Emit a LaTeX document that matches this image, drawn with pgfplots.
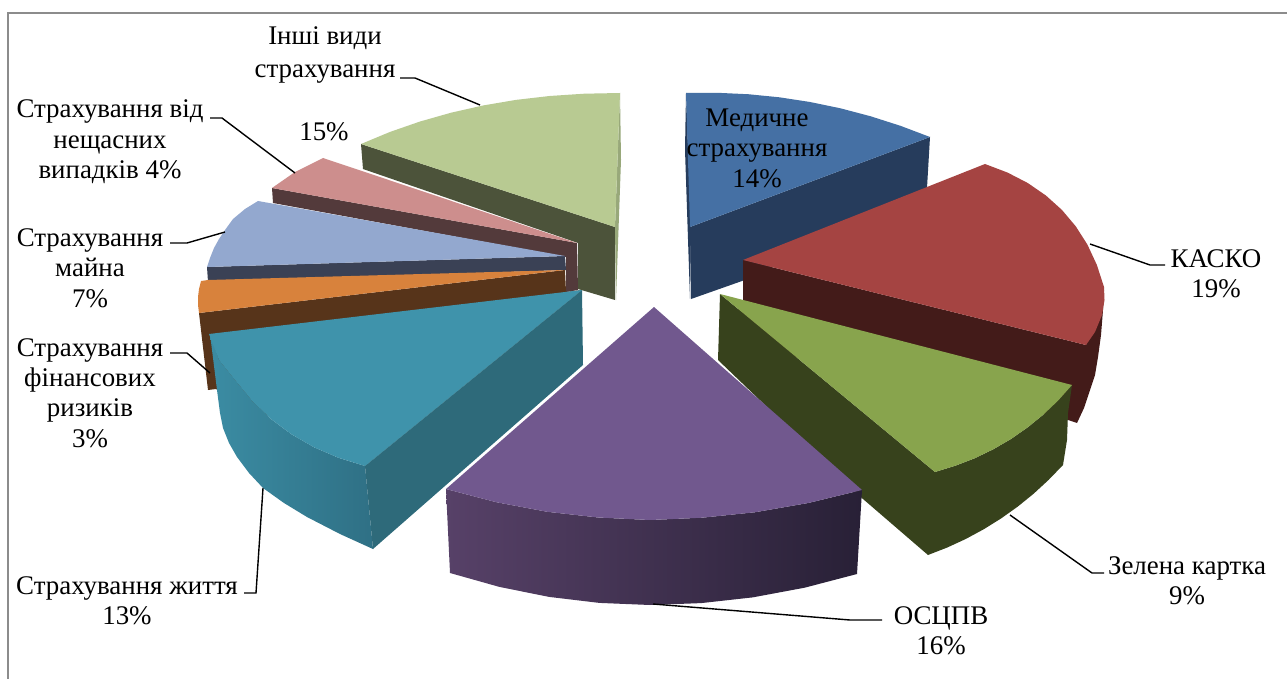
\documentclass[border=0pt]{standalone}
\usepackage{pgfplots}
\pgfplotsset{compat=1.18}
\usepackage{fontspec}
\setmainfont{Liberation Serif}
\definecolor{bluet}{HTML}{4570A4}\definecolor{blues}{HTML}{263C5C}
\definecolor{redt}{HTML}{A54442}\definecolor{reds}{HTML}{431B19}
\definecolor{grnt}{HTML}{88A44D}\definecolor{grns}{HTML}{37421C}
\definecolor{purt}{HTML}{71588E}\definecolor{purl}{HTML}{574168}\definecolor{purr}{HTML}{282036}
\definecolor{tealt}{HTML}{3F93AB}\definecolor{teals}{HTML}{2E6A7A}\definecolor{teall}{HTML}{3B8CA3}\definecolor{tealr}{HTML}{2F7085}
\definecolor{orat}{HTML}{D8823C}\definecolor{oras}{HTML}{57341A}
\definecolor{pert}{HTML}{93A8CF}\definecolor{pers}{HTML}{3A4155}
\definecolor{pnkt}{HTML}{CD8E8D}\definecolor{pnks}{HTML}{533A3B}
\definecolor{sagt}{HTML}{B8CA92}\definecolor{sags}{HTML}{4C533A}\definecolor{sagm}{HTML}{98A87A}
\definecolor{framec}{HTML}{8C8C8C}
\tikzset{lab/.style={font=\fontsize{26.9}{30.4}\selectfont,align=center,text=black,inner sep=0pt},
  lead/.style={draw=black,line width=1.4pt,fill=none}}
\begin{document}
\begin{tikzpicture}
\begin{axis}[
  x=1pt,y=1pt,y dir=reverse,
  xmin=0,xmax=1287,ymin=0,ymax=679,
  hide axis,clip=true,
  every axis plot/.append style={no markers,line width=0pt,draw=none}]
% canvas
\addplot[fill=white] coordinates {(0,0)(1287,0)(1287,679)(0,679)} --cycle;
% frame
\addplot[draw=framec,line width=2pt] coordinates {(8,679)(8,13)(1287,13)};
% back group
\addplot[fill=sags] coordinates {(361,144)(615,227)(615,300)(578,289)(578,243)(363,169)} --cycle;
\addplot[fill=sagm] coordinates {(620,93)(621,160)(616,300)(615,227)} --cycle;
\addplot[fill=sagt] coordinates {(361,144)(390.1,131.9)(420.1,121.5)(451.1,112.7)(483,105.5)(515.9,99.9)(549.6,96)(584.3,93.7)(620,93)(615,227)} --cycle;
\addplot[fill=pnks] coordinates {(272,188)(577,243)(578,290)(566,292)(566,257)(273,203)} --cycle;
\addplot[fill=pnkt] coordinates {(272,188)(295,172)(309,165)(323,158)(577,243)} --cycle;
\addplot[fill=pers] coordinates {(207,267)(565,256)(566,270)(208,282)} --cycle;
\addplot[fill=pert] coordinates {(207,267)(210,258)(214,248)(219,239)(225,230)(233,219)(245,209)(258,201)(565,256)} --cycle;
\addplot[fill=oras] coordinates {(199,313)(565,270)(566,292)(582,290)(365,466)(216,389)(208,390)} --cycle;
\addplot[fill=orat] coordinates {(201,281)(208,280)(565,270)(199,313)(198,305)(198,297)(199,289)} --cycle;
% teal
\addplot[left color=teall,right color=tealr] coordinates {(210,334)(217,390)(220,413)(223,428)(229,443)(237,457)(249,473)(263,488)(284,503)(307,517)(340,534)(373,549)(365,466)(338.5,457.8)(314,447.25)(291.5,434.3)(271,419)(252.5,401.3)(236,381.25)(219,360)} --cycle;
\addplot[fill=teals] coordinates {(365,466)(582,290)(583,365)(373,549)} --cycle;
\addplot[fill=tealt] coordinates {(582,290)(209,334)(219,360)(236,381.25)(252.5,401.3)(271,419)(291.5,434.3)(314,447.25)(338.5,457.8)(365,466)} --cycle;
% blue
\addplot[fill=blues] coordinates {(930,137)(690,227)(691,299)(742,281)(927,188)} --cycle;
\addplot[fill=blues] coordinates {(686,93)(685,150)(690,299)(691,227)} --cycle;
\addplot[fill=bluet] coordinates {(686,93)(717.4,92.8)(748.5,94.25)(779.4,97.3)(810,102)(840.4,108.3)(870.5,116.25)(900.4,125.8)(930,137)(690,227)} --cycle;
% red
\addplot[fill=reds] coordinates {(743,260)(1086,345)(1104,290)(1103,310)(1101,335)(1098,357)(1095,375)(1090,390)(1084,408)(1077,423)(1068,420)(720,340)(743,300)} --cycle;
\addplot[fill=redt] coordinates {(743,260)(985,164)(1007.6,172.6)(1027.9,183.1)(1046,195.6)(1062,210)(1075.8,226.4)(1087.4,244.6)(1096.8,264.8)(1104,287)(1104.5,300)(1102,315)(1095,332)(1086,345)} --cycle;
% green
\addplot[fill=grns] coordinates {(720,294)(935,472)(955.4,465.7)(974.9,458.2)(993.4,449.2)(1011,439)(1027.6,427.4)(1043.4,414.6)(1058.2,400.5)(1072,385)(1068,413)(1067,440)(1063,465)(1048.5,480)(1033.4,493.9)(1017.6,506.7)(1001,518.5)(983.8,529.2)(965.9,538.9)(947.3,547.5)(928,555)(863,499)(718,360)} --cycle;
\addplot[fill=grnt] coordinates {(720,294)(1072,385)(1058.2,400.5)(1043.4,414.6)(1027.6,427.4)(1011,439)(993.4,449.2)(974.9,458.2)(955.4,465.7)(935,472)} --cycle;
% purple
\addplot[left color=purl,right color=purr] coordinates {(446,489)(450,573)(499.4,586.9)(549.1,596.9)(599.3,602.9)(650,605)(701.1,603.1)(752.6,597.4)(804.6,587.7)(857,574)(862,490)(808.25,503)(755,512.25)(702.25,517.7)(650,520)(598.25,517.5)(547,511.75)(496.25,502.2)} --cycle;
\addplot[fill=purt] coordinates {(654,307)(862,490)(808.25,503)(755,512.25)(702.25,517.7)(650,520)(598.25,517.5)(547,511.75)(496.25,502.2)(446,489)} --cycle;
% leaders
\addplot[lead] coordinates {(400,78)(415,78)(480,105)};
\addplot[lead] coordinates {(210,118)(222,118)(295,173)};
\addplot[lead] coordinates {(170,243)(187,243)(225,232)};
\addplot[lead] coordinates {(170,353)(187,353)(210,373)};
\addplot[lead] coordinates {(244,593)(256,593)(263,488)};
\addplot[lead] coordinates {(1010,515)(1092,573)(1104,573)};
\addplot[lead] coordinates {(1090,244)(1150,265)(1165,265)};
\addplot[lead] coordinates {(653,604)(850,620)(882,620)};
% labels
\node[lab] at (axis cs:325,55) {Інші види\\[2.5pt]страхування};
\node[lab] at (axis cs:324,132) {15\%};
\node[lab] at (axis cs:110,142) {Страхування від\\нещасних\\випадків 4\%};
\node[lab] at (axis cs:90,268) {Страхування\\майна\\7\%};
\node[lab] at (axis cs:90,393) {Страхування\\фінансових\\ризиків\\3\%};
\node[lab] at (axis cs:127,601) {Страхування життя\\13\%};
\node[lab] at (axis cs:941,631) {ОСЦПВ\\16\%};
\node[lab] at (axis cs:1187,581) {Зелена картка\\9\%};
\node[lab] at (axis cs:1216,274) {КАСКО\\19\%};
\node[lab] at (axis cs:757,148) {Медичне\\страхування\\14\%};
\end{axis}
\end{tikzpicture}
\end{document}
